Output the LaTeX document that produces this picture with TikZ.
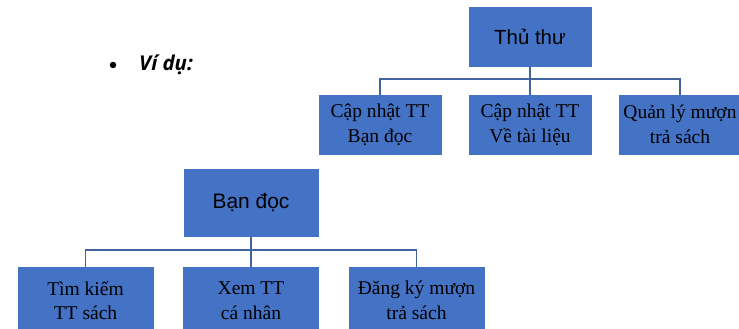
\documentclass[tikz,border=0pt]{standalone}
\usepackage{fontspec}
\setmainfont{Liberation Serif}
\setsansfont{Liberation Sans}
\newfontfamily\vidufont{Open Sans}
\usepackage{xcolor}
\usepackage{tikz}

\begin{document}
\begin{tikzpicture}[x=1bp, y=1bp,
    hop/.style={fill=xanhO, draw=xanhO, minimum width=122bp, minimum height=59bp, inner sep=1pt, align=center, font=\fontsize{19.6}{25}\selectfont},
    gocA/.style={hop, font=\sffamily\fontsize{20.5}{24}\selectfont},
    gocB/.style={hop, minimum width=134bp, minimum height=67bp, font=\sffamily\fontsize{21}{24}\selectfont},
    conB/.style={hop, minimum width=135bp, minimum height=67bp},
    noi/.style={draw=xanhD, line width=1.5bp}]

    % Definimos colores
    \definecolor{xanhO}{RGB}{68,114,196}   % relleno de las cajas
    \definecolor{xanhD}{RGB}{65,100,160}   % lineas de union

    \useasboundingbox (0,0) rectangle (739,328);

    % Vi du
    \node[circle, fill=black, inner sep=0pt, minimum size=6.5bp] (cham) at (113,263) {};
    \node[anchor=west, inner sep=0pt, font=\vidufont\bfseries\itshape\fontsize{20.5}{22}\selectfont] (vidu) at (139,263) {Ví dụ:};

    % Arbol superior: Thu thu
    \node[gocA] (thuthu) at (530,291.5) {Thủ thư};
    \node[hop] (tt1) at (380,203.5) {Cập nhật TT\\Bạn đọc};
    \node[hop] (tt2) at (530,203.5) {Cập nhật TT\\Về tài liệu};
    \node[hop] (tt3) at (680,203.5) {Quản lý mượn\\trả sách};

    \draw[noi] (thuthu.south) -- ++(0,-13) coordinate (nhanhA);
    \draw[noi] (nhanhA) -| (tt1.north);
    \draw[noi] (nhanhA) -- (tt2.north);
    \draw[noi] (nhanhA) -| (tt3.north);

    % Arbol inferior: Ban doc
    \node[gocB] (bandoc) at (251,125.5) {Bạn đọc};
    \node[conB] (bd1) at (85.5,27.5) {Tìm kiếm\\TT sách};
    \node[conB] (bd2) at (251,27.5) {Xem TT\\cá nhân};
    \node[conB] (bd3) at (416.5,27.5) {Đăng ký mượn\\trả sách};

    \draw[noi] (bandoc.south) -- ++(0,-14) coordinate (nhanhB);
    \draw[noi] (nhanhB) -| (bd1.north);
    \draw[noi] (nhanhB) -- (bd2.north);
    \draw[noi] (nhanhB) -| (bd3.north);

\end{tikzpicture}
\end{document}
